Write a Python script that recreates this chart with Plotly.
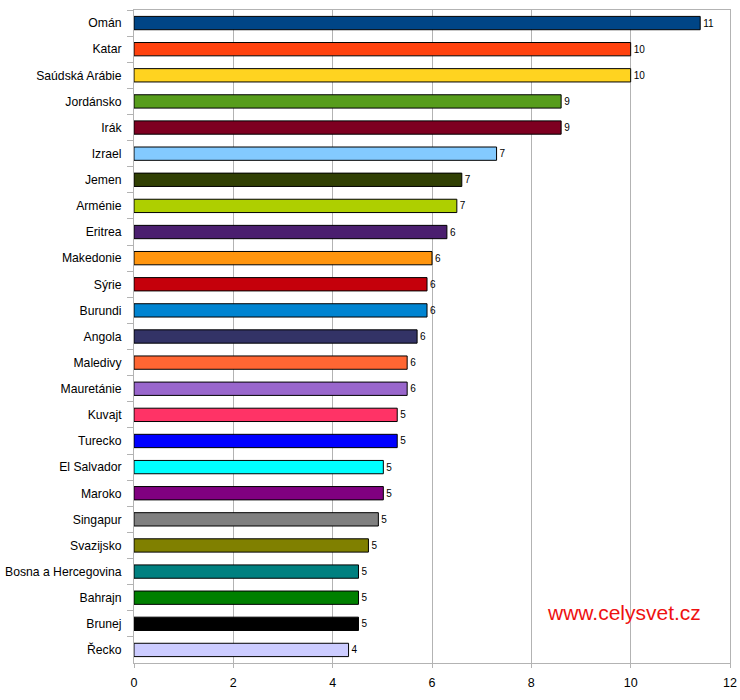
import plotly.graph_objects as go

countries = ["Omán", "Katar", "Saúdská Arábie", "Jordánsko", "Irák", "Izrael", "Jemen",
             "Arménie", "Eritrea", "Makedonie", "Sýrie", "Burundi", "Angola", "Maledivy",
             "Mauretánie", "Kuvajt", "Turecko", "El Salvador", "Maroko", "Singapur",
             "Svazijsko", "Bosna a Hercegovina", "Bahrajn", "Brunej", "Řecko"]
values = [11.4, 10.0, 10.0, 8.6, 8.6, 7.3, 6.6, 6.5, 6.3, 6.0, 5.9, 5.9, 5.7, 5.5,
          5.5, 5.3, 5.3, 5.02, 5.02, 4.92, 4.72, 4.52, 4.52, 4.52, 4.32]
colors = ["#004586", "#ff420e", "#ffd320", "#579d1c", "#7e0021", "#83caff", "#314004",
          "#aecf00", "#4b1f6f", "#ff950e", "#c5000b", "#0084d1", "#333366", "#ff6633",
          "#9966cc", "#ff3366", "#0000ff", "#00ffff", "#800080", "#808080",
          "#808000", "#008080", "#008000", "#000000", "#ccccff"]
x_ticks = [0, 2, 4, 6, 8, 10, 12]

W, H = 740, 700
L, R, T, B = 134, 10, 10, 37

fig = go.Figure(go.Bar(
    y=countries, x=values, orientation="h",
    marker=dict(color=colors, line=dict(color="#000000", width=1)),
    width=0.51,
    text=[str(int(v + 0.5)) for v in values], textposition="outside",
    textfont=dict(family="Liberation Sans, Arial", size=10, color="#000000"),
    cliponaxis=False,
))

fig.update_layout(
    width=W, height=H,
    margin=dict(l=L, r=R, t=T, b=B),
    plot_bgcolor="#ffffff", paper_bgcolor="#ffffff",
    showlegend=False,
    font=dict(family="Liberation Sans, Arial", size=12, color="#000000"),
    xaxis=dict(range=[0, 12], tickvals=x_ticks, showgrid=True, gridcolor="#b3b3b3",
               gridwidth=1, zeroline=False, showline=True, linecolor="#b3b3b3",
               linewidth=1, mirror=True, ticks="outside", ticklen=4, tickcolor="#b3b3b3",
               ticklabelstandoff=4, ticklabeloverflow="allow",
               automargin=False, tickfont=dict(size=12.5, color="#000000")),
    yaxis=dict(autorange="reversed", categoryorder="array", categoryarray=countries,
               showline=True, linecolor="#b3b3b3", linewidth=1, mirror=True,
               ticks="outside", ticklen=6, tickcolor="#b3b3b3", tickson="boundaries",
               ticklabelstandoff=9,
               automargin=False, showgrid=False, tickfont=dict(size=12.2, color="#000000")),
    annotations=[dict(text="www.celysvet.cz",
                      x=(624 - L) / (W - R - L) * 12,
                      y=(H - B - 612.5) / (H - B - T),
                      xref="x", yref="paper", xanchor="center", yanchor="middle",
                      showarrow=False, font=dict(size=21, color="#ee1111"))],
)
fig.write_html("out.html", config={"displayModeBar": False},
               post_script="document.body.style.margin='0';document.body.style.overflow='hidden';")
